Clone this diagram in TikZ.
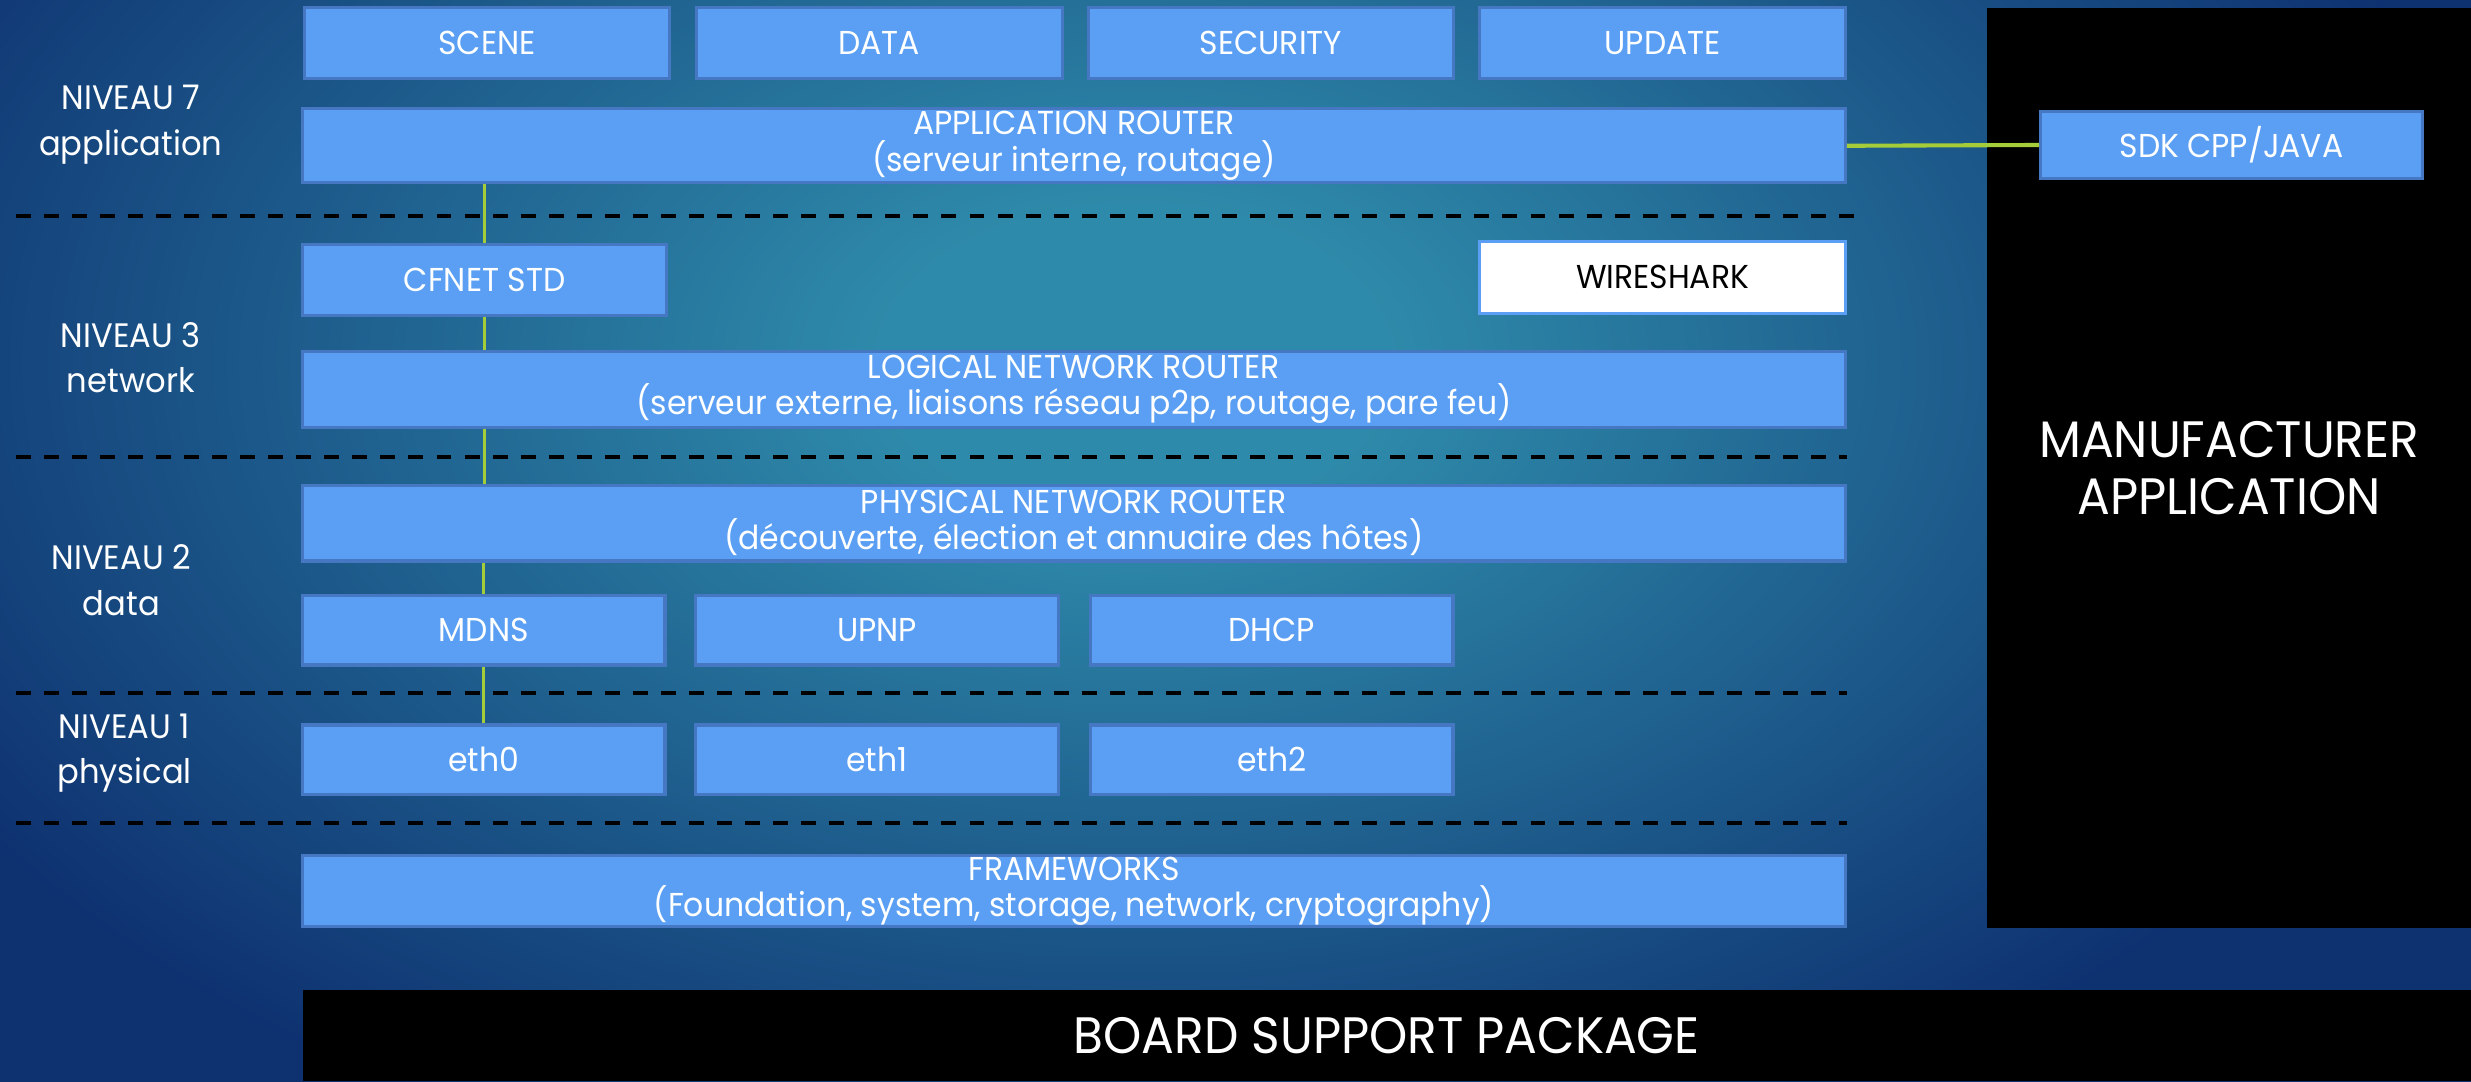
\documentclass[tikz,border=0pt]{standalone}
\usepackage{fontspec}
\setmainfont{Poppins}[FakeStretch=0.95]
\definecolor{glowin}{HTML}{2E8AAA}
\definecolor{glowout}{HTML}{0E3170}
\definecolor{boxfill}{HTML}{5A9FF3}
\definecolor{boxedge}{HTML}{4677C2}
\definecolor{linkgreen}{HTML}{A5CD39}
\pgfdeclareradialshading{slideglow}{\pgfpoint{0bp}{0bp}}{color(0bp)=(glowin); color(4bp)=(glowin); color(22bp)=(glowout); color(50bp)=(glowout)}

\begin{document}
\begin{tikzpicture}[x=1pt, y=-1pt,
  layer/.style={draw=boxedge, line width=2pt, fill=boxfill, text=white, inner sep=0pt, align=center, font=\fontsize{21}{23}\selectfont},
  level/.style={text=white, align=center, font=\fontsize{21.5}{29}\selectfont},
  vendor/.style={fill=black, text=white, align=center, inner sep=0pt, font=\fontsize{32.5}{36}\selectfont},
  link/.style={draw=linkgreen, line width=2.1pt},
  sep/.style={draw=black, line width=2.5pt, dash pattern=on 9.5pt off 8.3pt}]
  \useasboundingbox (0,0) rectangle (1568,686);
  \begin{scope}
    \clip (0,0) rectangle (1568,686);
    \shade[shading=slideglow] (-280,-390) rectangle (1720,850);
  \end{scope}

  % black panels: vendor side and hardware layer
  \node[vendor, minimum width=307pt, minimum height=584pt] (mfr) at (1414.5,297) {MANUFACTURER\\APPLICATION};
  \node[vendor, minimum width=1376pt, minimum height=58pt] (bsp) at (880,657) {BOARD SUPPORT PACKAGE};

  % layer separators
  \foreach \sy/\ex in {137/1180, 290/1172, 440/1172, 522/1172}
    \draw[sep] (10,\sy) -- (\ex,\sy);

  \foreach \lv/\cx/\cy/\txt in {lvseven/83/79/{NIVEAU 7\\application}, lvthree/83/227/{NIVEAU 3\\network},
    lvtwo/77/368/{NIVEAU 2\\data}, lvone/79/478/{NIVEAU 1\\physical}}
    \node[level] (\lv) at (\cx,\cy) {\txt};

  % niveau 7
  \foreach \name/\cx/\txt in {scene/309/SCENE, data/558/DATA, security/806.5/SECURITY, update/1055/UPDATE}
    \node[layer, minimum width=232pt, minimum height=45pt] (\name) at (\cx,27.5) {\txt};
  \node[layer, minimum width=979pt, minimum height=47pt] (approuter) at (681.5,92.5) {APPLICATION ROUTER\\(serveur interne, routage)};
  \node[layer, minimum width=242pt, minimum height=42pt] (sdk) at (1416,92) {SDK CPP/JAVA};

  % niveau 3
  \node[layer, minimum width=231pt, minimum height=45pt] (cfnet) at (307.5,177.5) {CFNET STD};
  \node[layer, fill=white, draw=boxfill, text=black, minimum width=232pt, minimum height=46pt] (wireshark) at (1055,176) {WIRESHARK};
  \node[layer, minimum width=979pt, minimum height=48pt] (logical) at (681.5,247) {LOGICAL NETWORK ROUTER\\(serveur externe, liaisons réseau p2p, routage, pare feu)};

  % niveau 2
  \node[layer, minimum width=979pt, minimum height=48pt] (physical) at (681.5,332) {PHYSICAL NETWORK ROUTER\\(découverte, élection et annuaire des hôtes)};
  \foreach \name/\cx/\txt in {mdns/307/MDNS, upnp/556.5/UPNP, dhcp/807/DHCP}
    \node[layer, minimum width=230pt, minimum height=44pt] (\name) at (\cx,400) {\txt};

  % niveau 1
  \foreach \name/\cx in {eth0/307, eth1/556.5, eth2/807}
    \node[layer, minimum width=230pt, minimum height=44pt] (\name) at (\cx,482) {\name};

  \node[layer, minimum width=979pt, minimum height=45pt] (frameworks) at (681.5,565.5) {FRAMEWORKS\\(Foundation, system, storage, network, cryptography)};

  % data path
  \draw[link] (approuter.south -| cfnet) -- (cfnet.north);
  \draw[link] (cfnet.south) -- (logical.north -| cfnet);
  \draw[link] (logical.south -| cfnet) -- (physical.north -| cfnet);
  \draw[link] (physical.south -| mdns) -- (mdns.north);
  \draw[link] (mdns.south) -- (eth0.north);
  \draw[link, line width=2.6pt] (approuter.east) -- (sdk.west);
\end{tikzpicture}
\end{document}
